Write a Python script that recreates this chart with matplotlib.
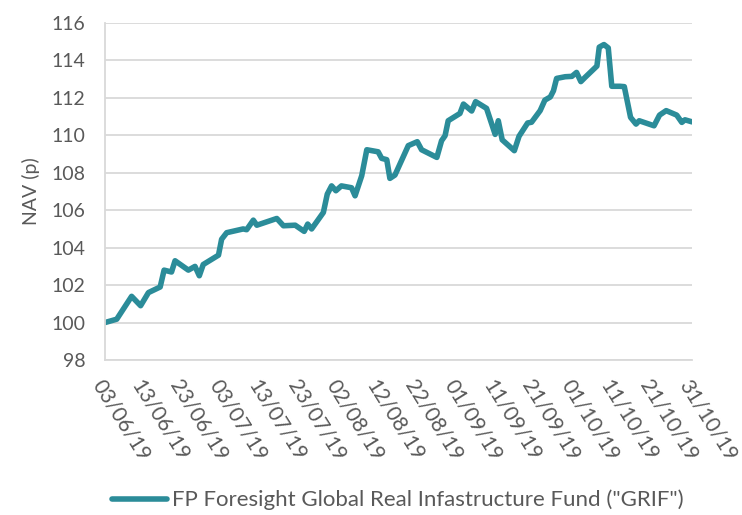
import datetime as dt
import matplotlib
matplotlib.use("Agg")
from matplotlib import pyplot as plt
import matplotlib.dates as mdates

# NAV, days counted from 03/06/19
start = dt.date(2019, 6, 3)
days = [0, 3.0, 6.8, 9.1, 11.1, 14.1, 15.1, 17.0, 17.9, 21.3, 23.0, 24.1, 25.1,
        29.0, 29.8, 31.1, 35.3, 36.2, 37.9, 38.8, 43.9, 45.6, 48.6, 50.9, 51.8,
        52.8, 55.8, 56.8, 57.9, 59.0, 60.4, 63.0, 63.9, 65.6, 66.9, 69.8, 70.7,
        72.0, 72.8, 74.1, 77.5, 79.8, 80.9, 84.8, 86.0, 86.9, 87.7, 90.7, 91.6,
        93.7, 94.7, 97.5, 99.7, 100.5, 101.5, 104.6, 105.8, 108.0, 109.0, 111.2,
        112.4, 113.8, 114.6, 115.4, 117.6, 119.3, 120.5, 121.6, 122.7, 125.7,
        126.3, 127.5, 128.6, 129.5, 131.6, 132.7, 134.3, 135.7, 136.5, 140.3,
        141.7, 143.4, 146.1, 147.4, 148.2, 150.0]
nav = [100.0, 100.18, 101.4, 100.9, 101.6, 101.9, 102.8, 102.7, 103.3, 102.8,
       103.0, 102.5, 103.1, 103.6, 104.45, 104.8, 105.0, 104.96, 105.47, 105.2,
       105.56, 105.17, 105.2, 104.87, 105.26, 105.0, 105.88, 106.86, 107.3,
       107.04, 107.3, 107.2, 106.77, 107.84, 109.23, 109.12, 108.77, 108.7,
       107.7, 107.88, 109.45, 109.66, 109.23, 108.82, 109.71, 109.98, 110.78,
       111.17, 111.67, 111.3, 111.8, 111.44, 110.05, 110.78, 109.76, 109.18,
       109.95, 110.66, 110.7, 111.32, 111.88, 112.05, 112.38, 113.04, 113.13,
       113.15, 113.36, 112.87, 113.1, 113.7, 114.71, 114.85, 114.67, 112.62,
       112.62, 112.6, 110.96, 110.6, 110.78, 110.51, 111.08, 111.32, 111.08,
       110.69, 110.83, 110.72]
series_name = 'FP Foresight Global Real Infastructure Fund ("GRIF")'
yticks = [98, 100, 102, 104, 106, 108, 110, 112, 114, 116]

plt.rcParams['font.family'] = ['Lato', 'DejaVu Sans']
text_col = '#595959'
grid_col = '#d9d9d9'

x0 = mdates.date2num(start)
xs = [x0 + d for d in days]

fig = plt.figure(figsize=(7.42, 5.15), dpi=100)
ax = fig.add_axes([105 / 742, 1 - 360 / 515, 587 / 742, 337 / 515])

ax.plot(xs, nav, color='#2b8c99', linewidth=4.0, solid_joinstyle='round',
        solid_capstyle='round', label=series_name)

ax.set_xlim(x0, x0 + 150)
ax.set_ylim(98, 116)
ax.set_yticks(yticks)
ax.set_xticks([x0 + d for d in range(0, 151, 10)])
ax.xaxis.set_major_formatter(mdates.DateFormatter('%d/%m/%y'))

ax.grid(axis='y', color=grid_col, linewidth=1.3)
ax.set_axisbelow(True)
for s in ['top', 'right']:
    ax.spines[s].set_visible(False)
for s in ['left', 'bottom']:
    ax.spines[s].set_color(grid_col)
    ax.spines[s].set_linewidth(1.3)

ax.tick_params(axis='both', length=0, labelcolor=text_col)
ax.tick_params(axis='y', pad=14, labelsize=14)
ax.tick_params(axis='x', pad=12, labelsize=15)
for lab in ax.get_xticklabels():
    lab.set_rotation(-58)
    lab.set_ha('left')
    lab.set_va('top')
    lab.set_rotation_mode('anchor')

ax.set_ylabel('NAV (p)', fontsize=14, color=text_col, labelpad=8)

fig.legend(loc='lower center', bbox_to_anchor=(0.536, -0.03), frameon=False,
           fontsize=16, labelcolor=text_col, handlelength=2.5, handletextpad=0.2)

fig.savefig('out.png', dpi=100)
